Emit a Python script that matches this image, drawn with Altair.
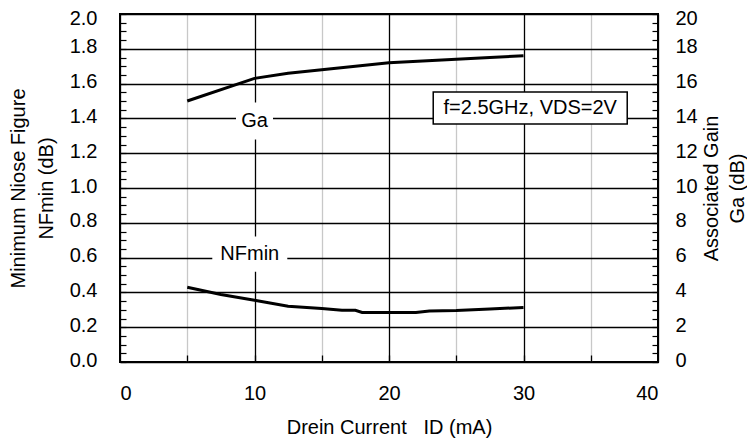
import altair as alt
import pandas as pd

# ---- data ----
id_nf = [5, 7.5, 10, 12.5, 15, 16.5, 17.5, 18, 20, 22, 23, 25, 27.5, 30]
nf_min = [0.43, 0.388, 0.355, 0.32, 0.307, 0.297, 0.297, 0.285, 0.285, 0.285, 0.293, 0.296, 0.305, 0.313]

id_ga = [5, 10, 12.5, 15, 17.5, 20, 22.5, 25, 27.5, 30]
ga = [15.0, 16.3, 16.6, 16.8, 17.0, 17.2, 17.3, 17.4, 17.5, 17.6]

x_ticks = [0, 5, 10, 15, 20, 25, 30, 35, 40]
nf_ticks = [0.0, 0.2, 0.4, 0.6, 0.8, 1.0, 1.2, 1.4, 1.6, 1.8, 2.0]
ga_ticks = [0, 2, 4, 6, 8, 10, 12, 14, 16, 18, 20]
nf_minor = [i * 0.05 for i in range(41)]
ga_minor = [i * 0.5 for i in range(41)]
x_minor = [5, 10, 15, 20, 25, 30, 35]

curve_labels = ["Ga", "NFmin"]
curve_label_x = [10, 9.65]
curve_label_y = [1.385, 0.62]

note_text = ["f=2.5GHz, VDS=2V"]
note_x = [30.5]
note_y = [1.46]

x_title = "Drein Current\u00a0\u00a0\u00a0ID (mA)"

nf_df = pd.DataFrame({"id": id_nf, "v": nf_min})
ga_df = pd.DataFrame({"id": id_ga, "v": ga})
lab_df = pd.DataFrame({"t": curve_labels, "x": curve_label_x, "y": curve_label_y})
note_df = pd.DataFrame({"t": note_text, "x": note_x, "y": note_y})

FONT = "Liberation Sans"
FS = 20

x_scale = alt.Scale(domain=[0, 40], nice=False, zero=False)
nf_scale = alt.Scale(domain=[0, 2], nice=False, zero=False)
ga_scale = alt.Scale(domain=[0, 20], nice=False, zero=False)

grid_color = alt.condition("datum.value % 10 === 0", alt.value("black"), alt.value("#c8c8c8"))
left_lab_off = alt.condition("datum.value >= 2", alt.value(4), alt.value(-2))
right_lab_off = alt.condition("datum.value >= 20", alt.value(4), alt.value(-2))

# NF line with left axis and main grid
nf_line = alt.Chart(nf_df).mark_line(color="black", strokeWidth=3).encode(
    x=alt.X("id:Q", scale=x_scale, axis=alt.Axis(
        orient="bottom", values=x_ticks, format="d",
        labelExpr="datum.value % 10 === 0 ? datum.label : ''",
        grid=True, gridColor=grid_color, gridWidth=1.3, ticks=False, domain=False,
        title=x_title, labelPadding=21, titlePadding=14)),
    y=alt.Y("v:Q", scale=nf_scale, axis=alt.Axis(
        orient="left", values=nf_ticks, format=".1f",
        grid=True, gridColor="black", gridWidth=1.3, ticks=False, domain=False,
        labelOffset=left_lab_off,
        title=["Minimum Niose Figure", "NFmin (dB)"], titleAngle=270,
        labelPadding=23, titlePadding=13)),
)

# Ga line with right axis
ga_line = alt.Chart(ga_df).mark_line(color="black", strokeWidth=3).encode(
    x=alt.X("id:Q", scale=x_scale, axis=None),
    y=alt.Y("v:Q", scale=ga_scale, axis=alt.Axis(
        orient="right", values=ga_ticks, format="d",
        grid=False, ticks=False, domain=False,
        labelOffset=right_lab_off,
        title=["Associated Gain", "Ga (dB)"], titleAngle=270,
        titleLineHeight=26, labelPadding=17, titlePadding=-2)),
)

# minor inward ticks: left and bottom
minor_left = alt.Chart(nf_df).mark_line(strokeOpacity=0).encode(
    x=alt.X("id:Q", scale=x_scale, axis=alt.Axis(
        orient="bottom", values=x_minor, offset=-7, tickSize=7, tickColor="black",
        tickWidth=1.3, labels=False, domain=False, grid=False, title="")),
    y=alt.Y("v:Q", scale=nf_scale, axis=alt.Axis(
        orient="left", values=nf_minor, offset=-6, tickSize=6, tickColor="black",
        tickWidth=1.2, labels=False, domain=False, grid=False, title="")),
)

# minor inward ticks: right
minor_right = alt.Chart(ga_df).mark_line(strokeOpacity=0).encode(
    x=alt.X("id:Q", scale=x_scale, axis=None),
    y=alt.Y("v:Q", scale=ga_scale, axis=alt.Axis(
        orient="right", values=ga_minor, offset=-6, tickSize=6, tickColor="black",
        tickWidth=1.2, labels=False, domain=False, grid=False, title="")),
)

# white boxes behind curve labels
lab_base = alt.Chart(lab_df).encode(
    x=alt.X("x:Q", scale=x_scale, axis=None),
    y=alt.Y("y:Q", scale=nf_scale, axis=None),
)
ga_box = lab_base.transform_filter("datum.t === 'Ga'").mark_point(
    shape="square", size=37 * 37, filled=True, fill="white", strokeWidth=0, opacity=1)
nf_box = lab_base.transform_filter("datum.t === 'NFmin'").mark_point(
    shape="M-1,-0.467L1,-0.467L1,0.467L-1,0.467Z", size=75 * 75, filled=True,
    fill="white", strokeWidth=0, opacity=1)
lab_text = lab_base.mark_text(font=FONT, fontSize=FS, color="black",
                              align="center", baseline="middle").encode(text="t:N")

# note box
note_base = alt.Chart(note_df).encode(
    x=alt.X("x:Q", scale=x_scale, axis=None),
    y=alt.Y("y:Q", scale=nf_scale, axis=None),
)
note_box = note_base.mark_point(
    shape="M-1,-0.165L1,-0.165L1,0.165L-1,0.165Z", size=194 * 194, filled=True,
    fill="white", stroke="black", strokeWidth=1.5, opacity=1)
note_txt = note_base.mark_text(font=FONT, fontSize=FS, color="black",
                               align="center", baseline="middle").encode(text="t:N")

chart = alt.layer(
    nf_line, ga_line, minor_left, minor_right,
    ga_box, nf_box, lab_text, note_box, note_txt,
).resolve_scale(y="independent").resolve_axis(x="independent", y="independent").properties(
    width=538, height=348,
    padding={"left": 112, "top": 6, "right": 89, "bottom": 80},
    autosize=alt.AutoSizeParams(type="none"),
).configure_view(
    stroke="black", strokeWidth=2
).configure_axis(
    labelFont=FONT, titleFont=FONT, labelFontSize=FS, titleFontSize=FS,
    labelColor="black", titleColor="black", titleFontWeight="normal",
    titleLineHeight=28,
)

chart.save("out.html", embed_options={"renderer": "svg", "actions": False})
